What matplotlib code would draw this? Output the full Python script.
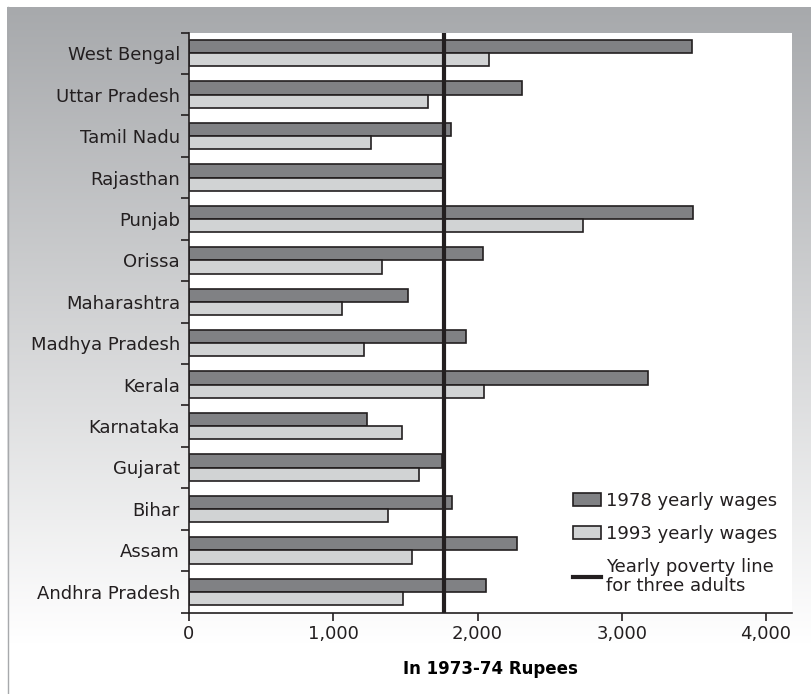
import numpy as np
import matplotlib
matplotlib.use("Agg")
import matplotlib.pyplot as plt
from matplotlib.patches import Patch
from matplotlib.lines import Line2D
from matplotlib.colors import LinearSegmentedColormap

# ── Data (In 1973-74 Rupees), top to bottom as drawn ──────────────────────────
STATES = ["West Bengal", "Uttar Pradesh", "Tamil Nadu", "Rajasthan", "Punjab",
          "Orissa", "Maharashtra", "Madhya Pradesh", "Kerala", "Karnataka",
          "Gujarat", "Bihar", "Assam", "Andhra Pradesh"]
WAGES_1978 = [3485, 2310, 1817, 1759, 3495, 2037, 1516,
              1919, 3183, 1231, 1757, 1826, 2271, 2058]
WAGES_1993 = [2083, 1658, 1262, 1759, 2731, 1340, 1058,
              1213, 2042, 1475, 1597, 1377, 1549, 1483]
POVERTY_LINE = 1765
XTICKS = [0, 1000, 2000, 3000, 4000]
XTICK_LABELS = ["0", "1,000", "2,000", "3,000", "4,000"]

DARK  = "#808184"
LIGHT = "#d1d3d4"
INK   = "#231f20"
GREY  = "#a7a9ac"

W, H, DPI = 811, 694, 100
plt.rcParams["font.family"] = ["DejaVu Sans"]
plt.rcParams["text.color"] = INK

fig = plt.figure(figsize=(W / DPI, H / DPI), dpi=DPI)
fig.patch.set_facecolor("white")

# ── Grey gradient backdrop ────────────────────────────────────────────────────
bg = fig.add_axes([0, 0, 1, 1], zorder=-10)
bg.set_xlim(0, W)
bg.set_ylim(0, H)
bg.axis("off")
cmap = LinearSegmentedColormap.from_list("bg", [GREY, "#ffffff"])
grad = np.linspace(0, 1, 256).reshape(-1, 1)
bg.imshow(grad, cmap=cmap, extent=[7, W, 50, H - 7], aspect="auto",
          origin="upper", vmin=0, vmax=1)
bg.plot([7.5, 7.5], [0, H - 7], color=GREY, lw=1)

# ── Main axes ─────────────────────────────────────────────────────────────────
top_px, bot_px, left_px, right_px = 32.5, 612.5, 189, 792
ax = fig.add_axes([left_px / W, 1 - bot_px / H,
                   (right_px - left_px) / W, (bot_px - top_px) / H])
ax.set_facecolor("white")

n = len(STATES)
y = np.arange(n)[::-1]
bh = 0.32
ax.barh(y + bh / 2, WAGES_1978, height=bh, color=DARK, edgecolor=INK,
        linewidth=1.2, zorder=2)
ax.barh(y - bh / 2, WAGES_1993, height=bh, color=LIGHT, edgecolor=INK,
        linewidth=1.2, zorder=2)
ax.axvline(POVERTY_LINE, color=INK, lw=3, zorder=3)

ax.set_xlim(0, 4180)
ax.set_ylim(-0.5, n - 0.5)

ax.set_xticks(XTICKS)
ax.set_xticklabels(XTICK_LABELS, fontsize=13)
ax.tick_params(axis="x", length=6, width=1.2, color=INK, pad=3, labelcolor=INK)

ax.set_yticks(np.arange(-0.5, n, 1))
ax.set_yticklabels([])
ax.set_yticks(y, minor=True)
ax.set_yticklabels(STATES, minor=True, fontsize=13)
ax.tick_params(axis="y", which="major", length=6, width=1.2, color=INK)
ax.tick_params(axis="y", which="minor", length=0, pad=6.5, labelcolor=INK)

for s in ["top", "right"]:
    ax.spines[s].set_visible(False)
for s in ["left", "bottom"]:
    ax.spines[s].set_color(INK)
    ax.spines[s].set_linewidth(1.2)

ax.set_xlabel("In 1973-74 Rupees", fontsize=12, fontweight="bold", labelpad=12)

handles = [Patch(facecolor=DARK, edgecolor=INK, linewidth=1.2),
           Patch(facecolor=LIGHT, edgecolor=INK, linewidth=1.2),
           Line2D([0], [0], color=INK, lw=3)]
labels = ["1978 yearly wages", "1993 yearly wages",
          "Yearly poverty line\nfor three adults"]
leg = ax.legend(handles, labels, loc="upper left", bbox_to_anchor=(0.637, 0.208),
                frameon=False, fontsize=13, handlelength=1.55, handleheight=0.8,
                handletextpad=0.25, labelspacing=0.83, borderpad=0,
                borderaxespad=0)
for t in leg.get_texts():
    t.set_linespacing(1.06)

fig.savefig("out.png", dpi=DPI)
